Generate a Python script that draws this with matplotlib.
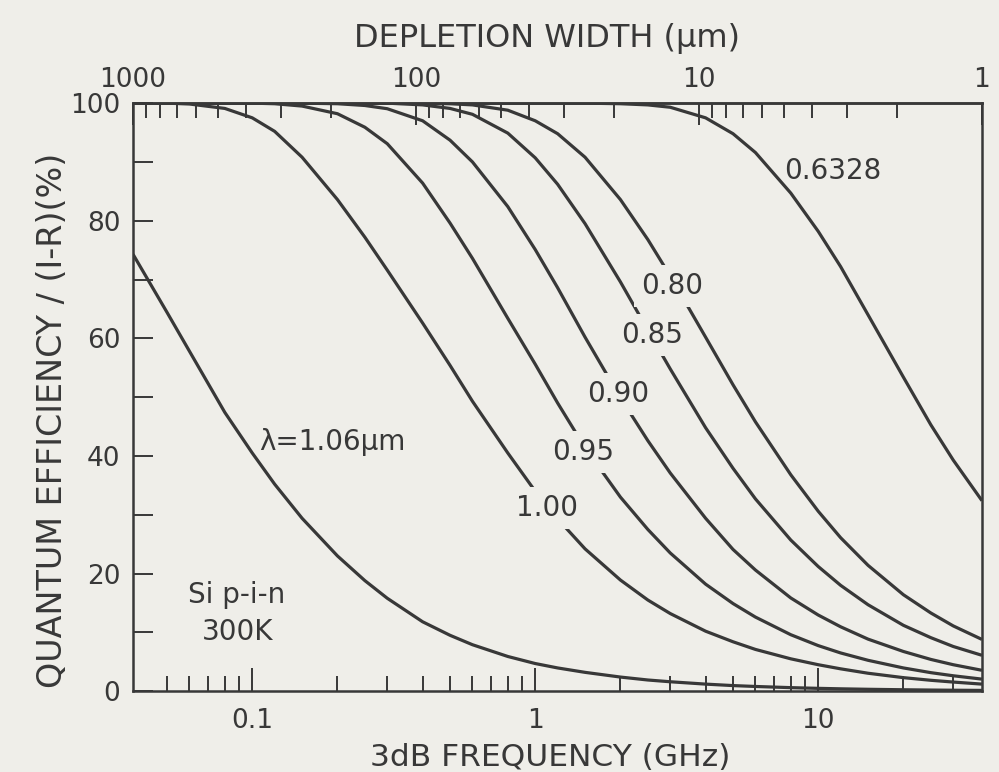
"""Si p-i-n photodiode: quantum efficiency vs 3 dB frequency / depletion width.

Values read off the scanned textbook figure.
"""

import numpy as np
import matplotlib.pyplot as plt
from matplotlib.ticker import NullFormatter

paper = "#efeee9"
ink = "#383838"

# depletion width (um) * 3dB frequency (GHz), ties top axis to bottom axis
K = 37.9

freq = [0.0379, 0.05, 0.06, 0.08, 0.1, 0.12, 0.15, 0.2, 0.25, 0.3, 0.4, 0.5,
        0.6, 0.8, 1, 1.2, 1.5, 2, 2.5, 3, 4, 5, 6, 8, 10, 12, 15, 20, 25, 30,
        37.9]

qe_106 = [74.3, 64.4, 57.8, 47.4, 40.5, 35.2, 29.4, 23.0, 18.8, 15.8, 11.8,
          9.5, 7.9, 5.9, 4.7, 3.95, 3.2, 2.4, 1.9, 1.6, 1.2, 0.95, 0.8, 0.6,
          0.48, 0.4, 0.32, 0.24, 0.19, 0.16, 0.13]
qe_100 = [100, 100, 99.85, 99.1, 97.5, 95.2, 90.8, 83.6, 77.2, 71.6, 62.6,
          55.4, 49.3, 40.5, 34.0, 29.3, 24.2, 18.9, 15.5, 13.2, 10.2, 8.4,
          7.1, 5.5, 4.5, 3.8, 3.05, 2.3, 1.85, 1.55, 1.2]
qe_095 = [100, 100, 100, 100, 100, 99.9, 99.5, 98.2, 95.9, 93.1, 86.4, 79.6,
          73.6, 63.4, 55.6, 49.0, 41.4, 33.0, 27.5, 23.5, 18.2, 14.9, 12.6,
          9.6, 7.75, 6.5, 5.25, 3.95, 3.15, 2.62, 2.05]
qe_090 = [100, 100, 100, 100, 100, 100, 100, 99.9, 99.6, 99.05, 97.0, 93.7,
          90.0, 82.4, 75.1, 68.6, 60.2, 49.9, 42.6, 37.1, 29.4, 24.1, 20.6,
          15.85, 12.95, 10.95, 8.85, 6.75, 5.4, 4.5, 3.55]
qe_085 = [100, 100, 100, 100, 100, 100, 100, 100, 100, 100, 99.7, 99.1,
          98.1, 94.9, 90.7, 86.2, 79.5, 69.6, 61.4, 54.8, 44.8, 37.9, 32.7,
          25.7, 21.2, 18.0, 14.7, 11.2, 9.1, 7.6, 6.1]
qe_080 = [100, 100, 100, 100, 100, 100, 100, 100, 100, 100, 100, 99.9, 99.7,
          98.8, 97.0, 94.8, 90.8, 83.6, 76.8, 70.6, 60.2, 52.1, 45.8, 36.8,
          30.6, 26.1, 21.4, 16.4, 13.3, 11.1, 8.8]
qe_0633 = [100, 100, 100, 100, 100, 100, 100, 100, 100, 100, 100, 100, 100,
           100, 100, 100, 100, 99.9, 99.7, 99.3, 97.5, 94.8, 91.6, 84.7, 78.2,
           72.2, 64.0, 53.4, 45.3, 39.3, 32.4]

curves = [qe_106, qe_100, qe_095, qe_090, qe_085, qe_080, qe_0633]

x_major = [0.1, 1, 10]
x_major_labels = ["0.1", "1", "10"]
x_minor = [0.05, 0.06, 0.07, 0.08, 0.09, 0.2, 0.3, 0.4, 0.5, 0.6, 0.7, 0.8,
           0.9, 2, 3, 4, 5, 6, 7, 8, 9, 20, 30]
w_major = [1000, 100, 10, 1]
w_major_labels = ["1000", "100", "10", "1"]
w_minor = [900, 800, 700, 600, 500, 400, 300, 200, 90, 80, 70, 60, 50, 40,
           30, 20, 9, 8, 7, 6, 5, 4, 3, 2]
y_major = [0, 20, 40, 60, 80, 100]
y_minor = [10, 30, 50, 70, 90]

plt.rcParams["font.family"] = ["DejaVu Sans"]
plt.rcParams["text.color"] = ink

fig = plt.figure(figsize=(9.99, 7.72), dpi=100, facecolor=paper)
ax = fig.add_axes([0.1331, 0.1047, 0.8499, 0.7617], facecolor=paper)

for qe in curves:
    ax.plot(freq, qe, color=ink, lw=2.3, solid_capstyle="butt",
            solid_joinstyle="round", zorder=2)

ax.set_xscale("log")
ax.set_xlim(0.03788, 37.92)
ax.set_ylim(0, 100)

ax.set_xticks(x_major, x_major_labels)
ax.set_xticks(x_minor, minor=True)
ax.xaxis.set_minor_formatter(NullFormatter())
ax.set_yticks(y_major, [str(v) for v in y_major])
ax.set_yticks(y_minor, minor=True)

ax.tick_params(axis="x", which="major", direction="in", length=16.5,
               width=1.4, pad=12, labelsize=19, colors=ink, top=False)
ax.tick_params(axis="x", which="minor", direction="in", length=10.5,
               width=1.4, colors=ink, top=False)
ax.tick_params(axis="y", which="both", direction="in", length=14.4,
               width=1.4, pad=9, labelsize=19, colors=ink, right=False)
for sp in ax.spines.values():
    sp.set_linewidth(1.8)
    sp.set_color(ink)

# top axis: depletion width, W = K / f
top = ax.secondary_xaxis("top", functions=(lambda f: K / np.asarray(f, float),
                                           lambda w: K / np.asarray(w, float)))
top.set_xticks(w_major, w_major_labels)
top.set_xticks(w_minor, minor=True)
top.xaxis.set_minor_formatter(NullFormatter())
top.tick_params(which="major", direction="in", length=16, width=1.4, pad=7,
                labelsize=19, colors=ink)
top.tick_params(which="minor", direction="in", length=11, width=1.4,
                colors=ink)
top.spines["top"].set_linewidth(1.8)
top.spines["top"].set_color(ink)

# curve labels; the boxed ones break their curve like in the print
gap = dict(boxstyle="square,pad=0.25", fc=paper, ec="none")
ax.text(11.3, 88.5, "0.6328", fontsize=20, ha="center", va="center")
ax.text(3.05, 68.9, "0.80", fontsize=20, ha="center", va="center", bbox=gap)
ax.text(2.58, 60.5, "0.85", fontsize=20, ha="center", va="center", bbox=gap)
ax.text(1.96, 50.6, "0.90", fontsize=20, ha="center", va="center", bbox=gap)
ax.text(1.48, 40.6, "0.95", fontsize=20, ha="center", va="center", bbox=gap)
ax.text(1.10, 31.2, "1.00", fontsize=20, ha="center", va="center", bbox=gap)
ax.text(0.106, 42.3, "λ=1.06μm", fontsize=20, ha="left", va="center")
ax.text(0.0883, 16.4, "Si p-i-n", fontsize=20, ha="center", va="center")
ax.text(0.0888, 10.1, "300K", fontsize=20, ha="center", va="center")

fig.text(0.5475, 1 - 47 / 772, "DEPLETION WIDTH (μm)", fontsize=23,
         ha="center", va="baseline")
fig.text(0.5505, 6 / 772, "3dB FREQUENCY (GHz)", fontsize=22.5,
         ha="center", va="baseline")
fig.text(53 / 999, 1 - 420 / 772, "QUANTUM EFFICIENCY / (I-R)(%)",
         fontsize=24, rotation=90, ha="center", va="center")

fig.savefig("out.png", dpi=100, facecolor=paper)
